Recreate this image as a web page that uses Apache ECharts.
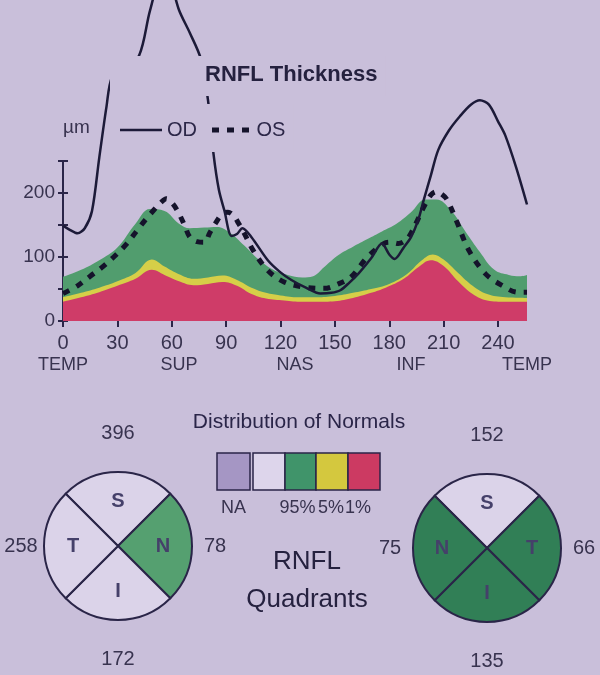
<!DOCTYPE html>
<html>
<head>
<meta charset="utf-8">
<script src="https://cdn.jsdelivr.net/npm/echarts@6/dist/echarts.min.js"></script>
<style>
  html, body { margin: 0; padding: 0; background: #c9bfda; }
  #chart { width: 600px; height: 675px; }
</style>
</head>
<body>
<div id="chart"></div>
<script>
// RNFL thickness profile + quadrant summary
const FONT = "'Liberation Sans', Arial, sans-serif"
const BG = '#c9bfda'
const INK = '#2a2548'
const TEXT = '#38334f'

const angleTicks = [0, 30, 60, 90, 120, 150, 180, 210, 240]
const regionTicks = [0, 64, 128, 192, 256]
const regionNames = ['TEMP', 'SUP', 'NAS', 'INF', 'TEMP']
const yTickLabels = [0, 100, 200]

// normative bands (upper edge of each band), [angle, µm]
const normal95 = [[0,69],[10,80],[20,95],[30,115],[40,152],[48,175],[56,172],[64,152],[70,145],[78,146],[85,147],[92,138],[100,118],[108,96],[116,80],[124,72],[132,68],[138,70],[144,84],[152,103],[160,116],[168,128],[176,140],[184,152],[192,170],[200,190],[206,190],[214,173],[222,140],[230,108],[238,80],[246,72],[252,70],[256,72]]
const normal5 = [[0,37],[10,44],[20,52],[30,62],[40,75],[49,96],[56,85],[64,73],[72,66],[80,68],[88,71],[96,64],[104,52],[112,44],[120,40],[130,37],[140,37],[150,39],[160,44],[170,50],[180,58],[190,74],[198,95],[204,104],[210,96],[218,75],[226,55],[234,42],[244,37],[256,36]]
const normal1 = [[0,30],[10,37],[20,45],[30,55],[40,66],[49,80],[56,72],[64,62],[72,56],[80,58],[88,61],[96,55],[104,42],[112,35],[122,32],[132,30],[140,30],[150,31],[160,36],[170,44],[178,52],[188,66],[196,84],[203,95],[210,86],[218,62],[226,42],[234,32],[244,30],[256,30]]

const od = [[0,149],[4,142],[8,137],[12,145],[16,172],[20,255],[24,335],[27,381],[34,398],[42,415],[48,485],[56,555],[64,486],[70,450],[76,410],[80,345],[83,262],[86,205],[89,173],[93,133],[96,136],[99,145],[104,131],[113,95],[120,76],[126,64],[134,52],[142,43],[148,44],[153,48],[158,60],[163,74],[170,98],[176,121],[180,104],[183,97],[188,115],[192,131],[196,158],[199,189],[203,228],[207,267],[213,298],[219,320],[225,338],[230,345],[235,338],[240,312],[244,290],[250,240],[256,182]]
const os = [[0,43],[8,55],[15,70],[22,85],[28,100],[35,120],[41,142],[46,160],[50,173],[54,185],[57,191],[60,185],[63,173],[67,150],[70,131],[74,124],[78,123],[81,138],[84,152],[88,168],[91,170],[94,165],[97,152],[100,137],[105,110],[113,79],[122,61],[133,53],[144,51],[152,58],[159,69],[168,100],[177,121],[181,123],[185,121],[189,126],[192,137],[196,160],[199,178],[203,197],[206,202],[209,198],[212,189],[217,157],[224,110],[233,74],[242,56],[251,45],[256,45]]

// quadrants, listed top, right, bottom, left
const leftNames = ['S', 'N', 'I', 'T']
const leftValues = [396, 78, 172, 258]
const leftClass = ['white', 'green', 'white', 'white']
const rightNames = ['S', 'T', 'I', 'N']
const rightValues = [152, 66, 135, 75]
const rightClass = ['white', 'green', 'green', 'green']

const normLabels = ['NA', '', '95%', '5%', '1%']
const normColors = ['#a596c4', '#ddd5eb', '#40946a', '#d4c83e', '#cc3a62']

const classColor = { white: '#dbd3e9', green: '#4f9d6d' }

const chart = echarts.init(document.getElementById('chart'))

function eye(center, names, values, classes, green) {
  const ring = (radius, showIdx, fmt, label) => ({
    type: 'pie', center: center, radius: radius, startAngle: 135, silent: true,
    itemStyle: { color: 'transparent', borderWidth: 0 },
    label: Object.assign({ position: 'inside', formatter: fmt, fontFamily: FONT }, label),
    data: names.map((n, i) => ({ name: n, value: 90, label: { show: showIdx(i) } }))
  })
  const fill = {
    type: 'pie', center: center, radius: 74, startAngle: 135, clockwise: true,
    silent: true, label: { show: false }, labelLine: { show: false },
    itemStyle: { borderColor: INK, borderWidth: 2 },
    data: names.map((n, i) => ({ name: n, value: 90,
      itemStyle: { color: classes[i] === 'green' ? green : classColor.white } }))
  }
  const numStyle = { fontSize: 20, color: TEXT }
  return [
    fill,
    ring([20, 64], () => true, '{b}', { fontSize: 20, fontWeight: 'bold', color: '#45406a' }),
    // top / bottom values sit further out than the side ones
    ring([102, 118], i => i % 2 === 0, p => values[p.dataIndex], numStyle),
    ring([86, 102], i => i % 2 === 1, p => values[p.dataIndex], numStyle)
  ]
}

const graphics = [
  { type: 'text', left: 63, top: 118, style: { text: 'µm', font: '19px ' + FONT, fill: TEXT } },
  { type: 'text', x: 299, y: 412, style: { text: 'Distribution of Normals', font: '21px ' + FONT, fill: INK, align: 'center' } }
]
const swX = [217, 253, 285, 316, 348]
const labelShift = [0, 0, -3, -1, -6]
normColors.forEach((c, i) => {
  const w = i === 0 ? 33 : (swX[i + 1] || 380) - swX[i]
  graphics.push({ type: 'rect', shape: { x: swX[i], y: 453, width: w, height: 37 },
    style: { fill: c, stroke: INK, lineWidth: 1.5 } })
  if (normLabels[i]) {
    graphics.push({ type: 'text', x: swX[i] + w / 2 + labelShift[i], y: 499,
      style: { text: normLabels[i], font: '18px ' + FONT, fill: TEXT, align: 'center' } })
  }
})

const option = {
  backgroundColor: BG,
  animation: false,
  title: [
    { text: 'RNFL Thickness', left: 110, top: 56, padding: [8, 8, 10, 95], backgroundColor: BG,
      textStyle: { fontFamily: FONT, fontSize: 22, fontWeight: 'bold', color: '#25213f' } },
    { text: 'RNFL\nQuadrants', left: 302, top: 538, textAlign: 'center',
      textStyle: { fontFamily: FONT, fontSize: 26, fontWeight: 'normal', color: '#25213f', lineHeight: 38 } }
  ],
  legend: {
    left: 114, top: 104, padding: [16, 8, 12, 6], backgroundColor: BG,
    itemWidth: 42, itemHeight: 5, itemGap: 15,
    data: [
      { name: 'OD', icon: 'path://M0,0h42v2.5h-42z' },
      { name: 'OS', icon: 'path://M0,0h7v5h-7zM15,0h7v5h-7zM30,0h7v5h-7z' }
    ],
    textStyle: { fontFamily: FONT, fontSize: 20, color: '#2c2748' }
  },
  grid: { left: 63, width: 464, top: 161, height: 160 },
  xAxis: [
    { type: 'value', min: 0, max: 256, interval: 30, position: 'bottom',
      axisLine: { show: false }, splitLine: { show: false },
      axisTick: { customValues: angleTicks, length: 6, lineStyle: { color: INK, width: 2 } },
      axisLabel: { customValues: angleTicks, margin: 12, fontFamily: FONT, fontSize: 20, color: TEXT } },
    { type: 'value', min: 0, max: 256, position: 'bottom',
      axisLine: { show: false }, splitLine: { show: false }, axisTick: { show: false },
      axisLabel: { customValues: regionTicks, margin: 35, fontFamily: FONT, fontSize: 18, color: TEXT,
        formatter: v => regionNames[regionTicks.indexOf(v)] } }
  ],
  yAxis: [
    { type: 'value', min: 0, max: 250, interval: 50, position: 'left',
      axisLine: { show: true, lineStyle: { color: INK, width: 2 } }, splitLine: { show: false },
      axisTick: { length: 5, lineStyle: { color: INK, width: 2 } },
      axisLabel: { margin: 8, fontFamily: FONT, fontSize: 19, color: TEXT,
        formatter: v => yTickLabels.includes(v) ? String(v) : '' } },
    { type: 'value', min: 0, max: 250, interval: 50, position: 'left',
      axisLine: { show: false }, splitLine: { show: false }, axisLabel: { show: false },
      axisTick: { inside: true, length: 5, lineStyle: { color: INK, width: 2 } } }
  ],
  graphic: graphics,
  series: [
    { name: '95%', type: 'line', data: normal95, smooth: 0.4, symbol: 'none', silent: true,
      lineStyle: { width: 0 }, areaStyle: { color: '#519d6e', opacity: 1 }, z: 1 },
    { name: '5%', type: 'line', data: normal5, smooth: 0.4, symbol: 'none', silent: true,
      lineStyle: { width: 0 }, areaStyle: { color: '#d6cf48', opacity: 1 }, z: 1 },
    { name: '1%', type: 'line', data: normal1, smooth: 0.4, symbol: 'none', silent: true,
      lineStyle: { width: 0 }, areaStyle: { color: '#cf3c68', opacity: 1 }, z: 1 },
    { name: 'OS', type: 'line', data: os, smooth: 0.35, symbol: 'none', z: 3,
      lineStyle: { color: '#15132b', width: 5, type: [7, 8] }, itemStyle: { color: '#15132b' } },
    { name: 'OD', type: 'line', data: od, smooth: 0.3, symbol: 'none', z: 3, clip: false,
      lineStyle: { color: '#1c1a38', width: 2.5 }, itemStyle: { color: '#1c1a38' } },
    ...eye([118, 546], leftNames, leftValues, leftClass, '#55a070'),
    ...eye([487, 548], rightNames, rightValues, rightClass, '#317f56')
  ]
}

chart.setOption(option)
</script>
</body>
</html>
